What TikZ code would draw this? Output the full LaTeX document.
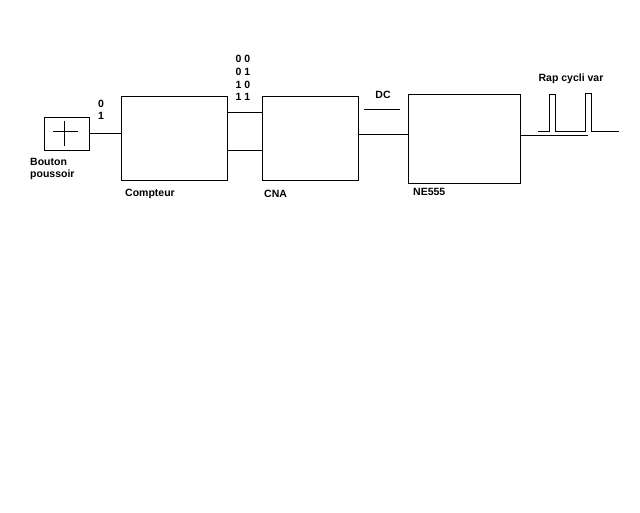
\documentclass[tikz,border=0pt]{standalone}
\usepackage{fontspec}
\setmainfont{Liberation Sans}
\usetikzlibrary{positioning, calc}

\begin{document}
\begin{tikzpicture}[
  x=1pt, y=-1pt,
  box/.style={draw, line width=1pt, inner sep=0pt},
  lbl/.style={font=\fontsize{10.5}{12.5}\selectfont\bfseries, inner sep=0pt, align=left},
  wire/.style={line width=1pt},
]
  \useasboundingbox (0,0) rectangle (640,512);

  % Bouton poussoir
  \node[box, minimum width=45pt, minimum height=33pt] (btn) at (66.5,133.5) {};
  \draw[wire] (53,131) -- (78,131) (64,121) -- (64,146);
  \node[lbl, anchor=north west] (btnlbl) at (30,158) {Bouton\\poussoir};
  \node[lbl] (bits) at (101,110) {0\\1};

  % Compteur
  \node[box, minimum width=106pt, minimum height=84pt] (cpt) at (174,138) {};
  \node[lbl, anchor=north west] (cptlbl) at (125,189) {Compteur};

  % CNA
  \node[box, minimum width=96pt, minimum height=84pt] (cna) at (310,138) {};
  \node[lbl, anchor=north west] (cnalbl) at (264,190) {CNA};
  \node[lbl, font=\fontsize{10.5}{12.7}\selectfont\bfseries] (code) at (243,78) {0 0\\0 1\\1 0\\1 1};

  % NE555
  \node[box, minimum width=112pt, minimum height=89pt] (ne) at (464,138.5) {};
  \node[lbl, anchor=north west] (nelbl) at (413,188) {NE555};
  \node[lbl] (dc) at (383,95) {DC};
  \draw[wire] (364,109) -- (400,109);

  % sortie
  \coordinate (out) at (588,135);
  \node[lbl] (rap) at (571,79) {Rap cycli var};
  \draw[wire] (538,131) -- (549,131) -- (549,94) -- (555,94) -- (555,131)
    -- (585,131) -- (585,93) -- (591,93) -- (591,131) -- (619,131);

  % liaisons
  \draw[wire] (btn.east) -- (btn.east -| cpt.west);
  \draw[wire] (cpt.east |- 0,112) -- (cna.west |- 0,112);
  \draw[wire] (cpt.east |- 0,150) -- (cna.west |- 0,150);
  \draw[wire] (cna.east |- 0,134) -- (ne.west |- 0,134);
  \draw[wire] (ne.east |- out) -- (out);
\end{tikzpicture}
\end{document}
